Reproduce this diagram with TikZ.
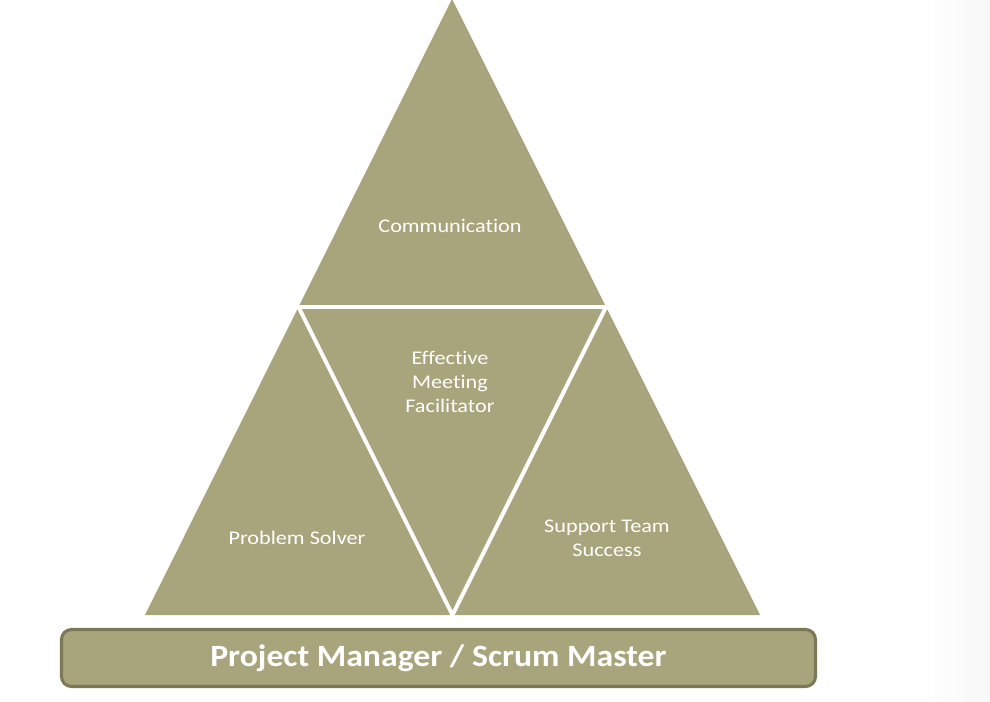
\documentclass[tikz,border=0pt]{standalone}
\usepackage{fontspec}
\usetikzlibrary{calc}
\setmainfont{Carlito}
\newfontfamily\labelfont[FakeStretch=1.15,Ligatures=NoCommon]{Carlito}
\newfontfamily\titlefont[FakeStretch=1.09,Ligatures=NoCommon]{Carlito}
\definecolor{khaki}{HTML}{A8A47C}
\definecolor{khakidark}{HTML}{7B7858}
\begin{document}
\begin{tikzpicture}[x=0.75pt,y=-0.75pt,
  piece/.style={text=white,font=\labelfont\fontsize{14.5}{18}\selectfont,align=center},
  divider/.style={draw=white,line width=3pt},
  basebar/.style={draw=khakidark,fill=khaki,line width=2.3pt,rounded corners=7.5pt,
    minimum width=565.5pt,minimum height=42.75pt,inner sep=0pt,
    text=white,font=\titlefont\bfseries\fontsize{23.2}{28}\selectfont}]
  % canvas
  \useasboundingbox (0,0) rectangle (990,702);
  \fill[white] (0,0) rectangle (990,702);
  \shade[left color=white,right color=black!3] (920,0) rectangle (990,702);
  % outer triangle
  \coordinate (apex) at (452,-1);
  \coordinate (bl) at (145,615);
  \coordinate (br) at (760,615);
  \coordinate (ml) at ($(apex)!0.5!(bl)$);
  \coordinate (mr) at ($(apex)!0.5!(br)$);
  \coordinate (mb) at ($(bl)!0.5!(br)$);
  \fill[khaki] (apex) -- (bl) -- (br) -- cycle;
  % inner inverted triangle split by white gaps
  \draw[divider,line cap=butt] ([xshift=-4]ml) -- ([xshift=4]mr);
  \draw[divider] (ml) -- (mb) -- (mr);
  % labels
  \node[piece] (comm) at (450,226) {Communication};
  \node[piece] (meet) at (450,382) {Effective\\Meeting\\Facilitator};
  \node[piece] (solve) at (297,538) {Problem Solver};
  \node[piece] (team) at (607,538) {Support Team\\Success};
  % base bar
  \node[basebar] (role) at (438.5,658) {Project Manager / Scrum Master};
\end{tikzpicture}
\end{document}
